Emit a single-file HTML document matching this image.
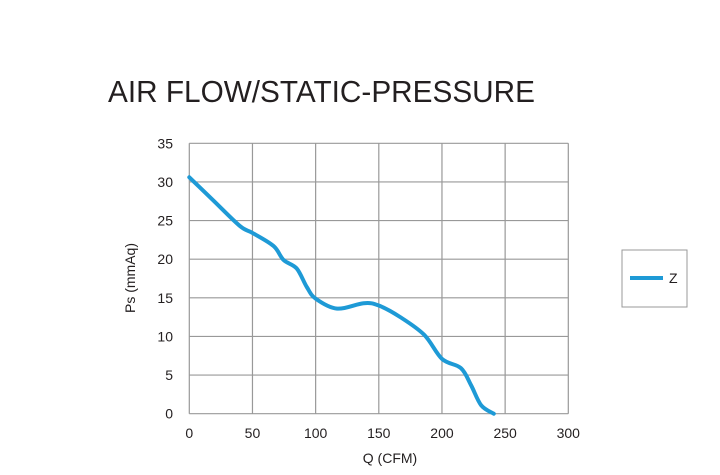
<!DOCTYPE html>
<html><head><meta charset="utf-8"><style>
body{margin:0;background:#fff;font-family:"Liberation Sans",sans-serif;}
svg text{font-family:"Liberation Sans",sans-serif;}
</style></head><body>
<svg width="720" height="470">
<text x="108" y="102" font-size="31" fill="#231f20" textLength="427" lengthAdjust="spacingAndGlyphs">AIR FLOW/STATIC-PRESSURE</text>
<g id="grid"></g><g id="ticks"></g>
<path id="curve" fill="none" stroke="#1e9ad6" stroke-width="4" stroke-linecap="round"/>
<text x="390" y="463" font-size="14" text-anchor="middle" fill="#231f20">Q (CFM)</text>
<text transform="translate(135,278) rotate(-90)" font-size="14" text-anchor="middle" fill="#231f20">Ps (mmAq)</text>
<g>
<rect x="622" y="250" width="65" height="57" fill="#fff" stroke="#999"/>
<line x1="630" y1="278" x2="663" y2="278" stroke="#1e9ad6" stroke-width="4"/>
<text x="669" y="283" font-size="14" fill="#231f20">Z</text>
</g>
</svg>
<script>
const xTicks=[0,50,100,150,200,250,300];
const yTicks=[0,5,10,15,20,25,30,35];
const qValues=[0,19,40,50,66.7,74.6,85,93,100,117,138,150,167,186,200,215,223,231,241];
const psValues=[30.6,27.6,24.3,23.4,21.7,19.9,18.8,16.4,14.9,13.6,14.3,14.0,12.5,10.2,7.1,5.9,3.7,1.1,0];
const X0=189.3,X1=568.3,Y0=413.7,Y1=143.3;
const sx=v=>X0+(v-0)/(300)*(X1-X0);
const sy=v=>Y0-(v/35)*(Y0-Y1);
const NS="http://www.w3.org/2000/svg";
const grid=document.getElementById('grid'),ticks=document.getElementById('ticks');
xTicks.forEach(t=>{
 const l=document.createElementNS(NS,'line');
 l.setAttribute('x1',sx(t));l.setAttribute('x2',sx(t));l.setAttribute('y1',Y1);l.setAttribute('y2',Y0);
 l.setAttribute('stroke','#999');l.setAttribute('stroke-width','1.2');
 
 
 grid.appendChild(l);
 const tx=document.createElementNS(NS,'text');
 tx.setAttribute('x',sx(t));tx.setAttribute('y',438);tx.setAttribute('font-size','14');tx.setAttribute('text-anchor','middle');tx.setAttribute('fill','#231f20');
 tx.textContent=t;
 
 
 ticks.appendChild(tx);
});
yTicks.forEach(t=>{
 const l=document.createElementNS(NS,'line');
 l.setAttribute('x1',X0);l.setAttribute('x2',X1);l.setAttribute('y1',sy(t));l.setAttribute('y2',sy(t));
 l.setAttribute('stroke','#999');l.setAttribute('stroke-width','1.2');
 
 
 grid.appendChild(l);
 const tx=document.createElementNS(NS,'text');
 tx.setAttribute('x',173);tx.setAttribute('y',sy(t)+5);tx.setAttribute('font-size','14');tx.setAttribute('text-anchor','end');tx.setAttribute('fill','#231f20');
 tx.textContent=t;
 
 
 ticks.appendChild(tx);
});
const pts=qValues.map((q,i)=>[sx(q),sy(psValues[i])]);
let d='M'+pts[0][0]+','+pts[0][1];
for(let i=0;i<pts.length-1;i++){
 const p0=pts[Math.max(0,i-1)],p1=pts[i],p2=pts[i+1],p3=pts[Math.min(pts.length-1,i+2)];
 const c1=[p1[0]+(p2[0]-p0[0])/6,p1[1]+(p2[1]-p0[1])/6];
 const c2=[p2[0]-(p3[0]-p1[0])/6,p2[1]-(p3[1]-p1[1])/6];
 d+=' C'+c1+' '+c2+' '+p2;
}
document.getElementById('curve').setAttribute('d',d);
</script>
</body></html>
